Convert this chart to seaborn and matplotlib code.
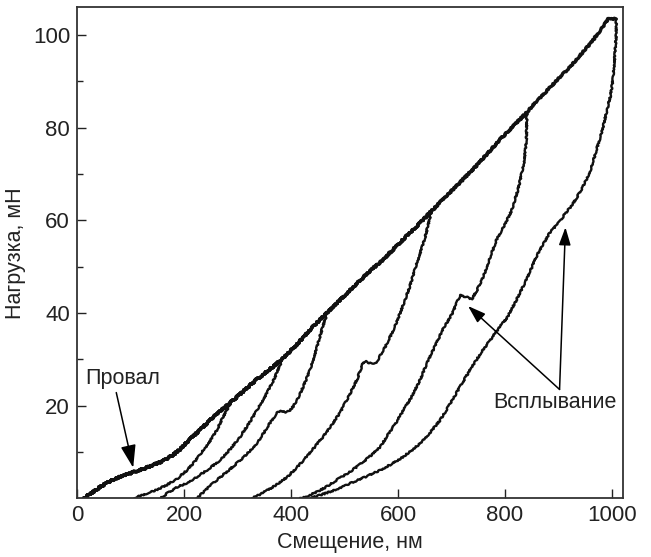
import numpy as np
import pandas as pd
import matplotlib
matplotlib.use("Agg")
import matplotlib.pyplot as plt
import seaborn as sns

# ---- data ----
load_x = [12, 25, 40, 55, 70, 90, 106, 125, 145, 165, 180, 195, 210, 230, 250, 270,
          286, 310, 335, 360, 383, 405, 425, 445, 467, 495, 520, 545, 573, 595, 615,
          640, 660, 690, 716, 750, 791, 815, 838, 860, 885, 922, 959, 980, 993, 1008]
load_y = [0, 1.0, 2.2, 3.3, 4.2, 5.0, 5.7, 6.4, 7.3, 8.3, 9.4, 10.8, 12.6, 14.8, 17.0,
          19.0, 20.6, 23.0, 25.6, 27.8, 30.0, 32.5, 35.0, 37.5, 40.0, 43.2, 46.0, 48.8,
          51.6, 54.2, 56.5, 59.3, 61.7, 65.2, 68.2, 72.2, 77.5, 80.3, 83.0, 85.8, 88.8,
          93.2, 98.1, 101.3, 103.5, 103.5]

unload20_x = [286, 278, 270, 262, 250, 237, 222, 206, 188, 168, 150, 131, 118, 106]
unload20_y = [20.3, 18.6, 16.8, 14.8, 12.6, 10.5, 8.2, 6.1, 4.3, 2.9, 1.9, 1.1, 0.5, 0]

unload30_x = [384, 376, 368, 353, 337, 321, 305, 287, 268, 246, 224, 205, 187, 170, 156]
unload30_y = [30.0, 27.8, 25.6, 22.3, 19.1, 16.1, 13.3, 10.7, 8.3, 6.3, 4.6, 3.3, 2.4,
              1.2, 0]

unload40_x = [468, 463, 458, 447, 436, 426, 417, 404, 396, 392, 384, 376, 368, 361,
              349, 337, 318, 299, 280, 262, 243, 224]
unload40_y = [40.0, 38.3, 36.5, 32.0, 27.8, 25.0, 22.5, 19.8, 18.8, 18.6, 18.8, 18.8,
              17.5, 16.3, 14.1, 12.0, 9.6, 7.6, 5.7, 4.0, 2.1, 0]

unload62_x = [662, 656, 650, 643, 636, 628, 620, 612, 604, 596, 588, 580, 573, 565,
              561, 557, 548, 540, 535, 530, 524, 508, 492, 476, 460, 441, 423, 408,
              393, 375, 360, 343, 327]
unload62_y = [61.7, 58.8, 56.0, 53.5, 51.0, 48.0, 45.0, 42.5, 40.0, 37.7, 35.5, 33.6,
              32.0, 30.6, 29.5, 29.2, 29.2, 29.5, 29.4, 27.8, 25.8, 22.0, 18.6, 15.8,
              13.3, 10.6, 8.2, 6.3, 4.6, 3.1, 2.0, 0.9, 0]

unload83_x = [841, 840, 835, 824, 812, 798, 785, 772, 760, 748, 738, 727, 716, 710,
              700, 684, 669, 654, 641, 625, 610, 596, 581, 567, 545, 523, 505, 486,
              468, 449, 433, 417]
unload83_y = [82.8, 77.0, 72.0, 66.5, 62.0, 58.8, 56.0, 52.0, 48.0, 45.0, 43.0, 43.5,
              43.8, 42.2, 39.6, 36.5, 32.8, 29.2, 25.5, 21.8, 19.0, 16.3, 13.7, 11.1,
              8.8, 6.8, 5.3, 4.0, 2.6, 1.4, 0.6, 0]

unload104_x = [1008, 1008, 1005, 1002, 997, 991, 984, 978, 968, 959, 950, 941, 932,
               922, 912, 903, 895, 885, 872, 860, 847, 834, 820, 804, 787, 770, 754,
               735, 716, 698, 679, 660, 641, 622, 604, 585, 567, 541, 516, 495, 473,
               455, 436]
unload104_y = [103.5, 100.0, 95.0, 90.5, 86.8, 84.0, 80.5, 78.0, 74.0, 70.6, 68.3,
               66.3, 64.5, 62.8, 61.4, 59.8, 58.8, 57.6, 55.0, 52.5, 49.0, 45.8, 42.5,
               39.0, 36.5, 33.8, 31.2, 27.8, 24.1, 20.5, 16.9, 14.2, 11.8, 10.0, 8.5,
               7.2, 6.1, 4.7, 3.5, 2.4, 1.4, 0.7, 0]

unloads = [(unload20_x, unload20_y), (unload30_x, unload30_y), (unload40_x, unload40_y),
           (unload62_x, unload62_y), (unload83_x, unload83_y), (unload104_x, unload104_y)]

x_ticks = [0, 200, 400, 600, 800, 1000]
y_ticks = [20, 40, 60, 80, 100]
xlabel = "Смещение, нм"
ylabel = "Нагрузка, мН"

# ---- long table: each test = loading up to its peak + unloading ----
lx = np.array(load_x, float)
ly = np.array(load_y, float)
rows = []
for t, (ux, uy) in enumerate(unloads):
    ux = np.array(ux, float)
    uy = np.array(uy, float)
    m = lx < ux[0] - 1
    lxs = np.append(lx[m], ux[0])
    lys = np.append(ly[m], uy[0])
    for k, (a, b) in enumerate(zip(lxs, lys)):
        rows.append({"curve": f"L{t}", "phase": "loading", "order": k, "x": a, "y": b})
    for k, (a, b) in enumerate(zip(ux, uy)):
        rows.append({"curve": f"U{t}", "phase": "unloading", "order": k, "x": a, "y": b})
df = pd.DataFrame(rows)

sns.set_theme(style="ticks")
plt.rcParams["font.family"] = ["Liberation Sans", "DejaVu Sans"]

fig = plt.figure(figsize=(6.51, 5.57), dpi=100)
ax = fig.add_axes([0.1183, 0.1054, 0.8382, 0.8815])

sns.lineplot(data=df, x="x", y="y", units="curve", estimator=None, sort=False,
             size="phase", sizes={"loading": 2.4, "unloading": 1.7},
             color="#111111", ax=ax, legend=False)
for ln in ax.lines:
    ln.set_solid_joinstyle("round")
    ln.set_sketch_params(scale=0.7, length=3.0, randomness=6.0)

ax.set_xlim(0, 1020)
ax.set_ylim(0, 106)
ax.set_xticks(x_ticks)
ax.set_yticks(y_ticks)
ax.set_yticks([10, 30, 50, 70, 90], minor=True)
ax.tick_params(axis="both", which="major", direction="in", length=6.5, width=1.0,
               labelsize=16, pad=5, color="#222222", labelcolor="#222222")
ax.tick_params(axis="y", which="minor", direction="in", length=4.5, width=1.0,
               color="#222222")
for s in ax.spines.values():
    s.set_linewidth(1.3)
    s.set_color("#333333")

ax.set_xlabel(xlabel, fontsize=15.5, color="#222222", labelpad=4)
ax.set_ylabel(ylabel, fontsize=15.5, color="#222222", labelpad=5)

arrow = dict(arrowstyle="-|>,head_length=0.9,head_width=0.3", color="black",
             lw=1.1, shrinkA=0, shrinkB=0)
ax.annotate("Провал", xy=(105, 6.6), xytext=(86, 25.8), fontsize=15.5,
            ha="center", va="center", color="#222222",
            arrowprops=dict(arrow, relpos=(0.4, 0.0)))
ax.annotate("", xy=(731, 41.5), xytext=(902, 23.5), arrowprops=arrow)
ax.annotate("", xy=(913, 58.5), xytext=(902, 23.5), arrowprops=arrow)
ax.text(893, 20.6, "Всплывание", fontsize=15.5, ha="center", va="center",
        color="#222222")

fig.savefig("out.png", dpi=100)
